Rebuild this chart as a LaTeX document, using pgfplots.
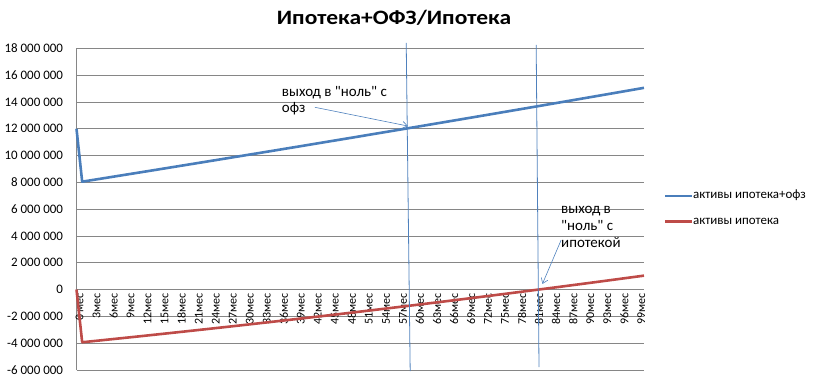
\documentclass[border=0pt]{standalone}
\usepackage{fontspec}
\setmainfont{Carlito}
\newfontfamily\titlefont{Carlito}[FakeStretch=1.15]
\newfontfamily\annfont{Carlito}
\usepackage{pgfplots}
\usepackage{pgfplotstable}
\pgfplotsset{compat=1.18}
\usetikzlibrary{arrows.meta}
\definecolor{serblue}{HTML}{4A7EBB}
\definecolor{serred}{HTML}{BE4B48}
\definecolor{gridgray}{HTML}{868686}
\definecolor{shapeblue}{HTML}{4F81BD}

\pgfplotstableread{
t v
0 12000000
1 8050000
4 8253000
7 8457000
10 8661000
13 8865000
16 9071000
19 9277000
22 9483000
25 9690000
28 9898000
31 10106000
34 10314000
37 10524000
40 10733000
43 10944000
46 11155000
49 11366000
52 11579000
55 11791000
58 12005000
61 12218000
64 12433000
67 12648000
70 12863000
73 13079000
76 13296000
79 13513000
82 13731000
85 13950000
88 14169000
91 14388000
94 14608000
97 14829000
100 15050000
}\bluedata

\pgfplotstableread{
t v
0 0
1 -3930000
4 -3800000
7 -3668000
10 -3536000
13 -3402000
16 -3266000
19 -3130000
22 -2992000
25 -2853000
28 -2713000
31 -2571000
34 -2428000
37 -2284000
40 -2138000
43 -1992000
46 -1844000
49 -1694000
52 -1544000
55 -1392000
58 -1239000
61 -1084000
64 -929000
67 -772000
70 -613000
73 -454000
76 -293000
79 -131000
82 33000
85 197000
88 363000
91 530000
94 699000
97 869000
100 1040000
}\reddata

\begin{document}
\begin{tikzpicture}
\path[use as bounding box] (0bp,0bp) rectangle (814bp,379bp);
\begin{axis}[
  at={(76.5bp,9bp)}, anchor=south west,
  scale only axis, width=567.5bp, height=321.7bp,
  xmin=0, xmax=100, ymin=-6000000, ymax=18000000,
  axis x line*=middle, axis y line*=left,
  hide obscured x ticks=false, hide obscured y ticks=false,
  axis line style={gridgray, line width=0.8bp, -},
  ymajorgrids, grid style={gridgray, line width=0.8bp},
  major tick length=0pt,
  ytick={-6000000,-4000000,-2000000,0,2000000,4000000,6000000,8000000,10000000,12000000,14000000,16000000,18000000},
  yticklabels={-6 000 000,-4 000 000,-2 000 000,0,2 000 000,4 000 000,6 000 000,8 000 000,10 000 000,12 000 000,14 000 000,16 000 000,18 000 000},
  scaled y ticks=false,
  xtick={0,3,...,99},
  xticklabels={0 мес,3мес,6мес,9мес,12мес,15мес,18мес,21мес,24мес,27мес,30мес,33мес,36мес,39мес,42мес,45мес,48мес,51мес,54мес,57мес,60мес,63мес,66мес,69мес,72мес,75мес,78мес,81мес,84мес,87мес,90мес,93мес,96мес,99мес},
  yticklabel style={font=\fontsize{13}{15}\selectfont, xshift=-10bp},
  xticklabel style={font=\fontsize{12}{14}\selectfont, rotate=90, anchor=east, yshift=-3bp},
  clip=false,
]
\addplot[serblue, line width=2.6bp, line join=round] table[x=t,y=v] {\bluedata};
\addplot[serred, line width=2.6bp, line join=round] table[x=t,y=v] {\reddata};

\draw[shapeblue, line width=0.8bp] (axis cs:58.1,18400000) -- (axis cs:58.8,-6080000);
\draw[shapeblue, line width=0.8bp] (axis cs:81.0,18250000) -- (axis cs:81.5,-5780000);
\draw[shapeblue, line width=0.6bp, -{Straight Barb[length=5bp,width=7bp]}] (axis cs:42.0,13600000) -- (axis cs:58.4,12200000);
\draw[shapeblue, line width=0.6bp, -{Straight Barb[length=5bp,width=7bp]}] (axis cs:85.4,3700000) -- (axis cs:82.1,420000);
\end{axis}

\node[anchor=base, font=\titlefont\bfseries\fontsize{20.5}{24}\selectfont, inner sep=0pt] at (394bp,354bp) {Ипотека+ОФЗ/Ипотека};

% legend
\draw[serblue, line width=2.6bp] (665bp,183bp) -- (692bp,183bp);
\node[anchor=base west, inner sep=0pt, font=\fontsize{13}{15}\selectfont] at (693bp,180bp) {активы ипотека+офз};
\draw[serred, line width=2.6bp] (665bp,157.3bp) -- (692bp,157.3bp);
\node[anchor=base west, inner sep=0pt, font=\fontsize{13}{15}\selectfont] at (693bp,154.3bp) {активы ипотека};

\begin{scope}[every node/.style={anchor=base west, inner sep=0pt, font=\annfont\fontsize{15}{17}\selectfont}]
\node at (281.7bp,282.5bp) {выход в "ноль" с};
\node at (281.7bp,266bp) {офз};
\node at (561bp,165.7bp) {выход в};
\node at (561bp,148.5bp) {"ноль" с};
\node at (561bp,131.3bp) {ипотекой};
\end{scope}
\end{tikzpicture}
\end{document}
